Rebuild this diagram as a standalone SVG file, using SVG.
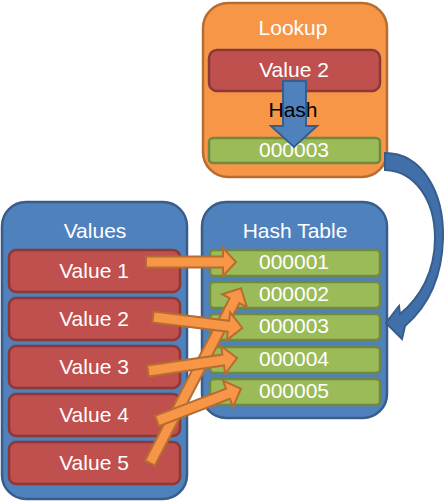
<svg xmlns="http://www.w3.org/2000/svg" width="445" height="501" viewBox="0 0 445 501">
<style>
.cont{fill:#4F81BD;stroke:#385D8A;stroke-width:2.5}
.look{fill:#F79646;stroke:#B66D31;stroke-width:2.5}
.red{fill:#C0504D;stroke:#8C3836;stroke-width:2.5}
.grn{fill:#9BBB59;stroke:#71893F;stroke-width:2.5}
.oar{fill:#F79646;stroke:#B66D31;stroke-width:2;stroke-linejoin:miter}
.bar{fill:#4F81BD;stroke:#385D8A;stroke-width:2}
text{font-family:"Liberation Sans",Arial,sans-serif;font-size:21px;fill:#FFFFFF;text-anchor:middle}
.blk{fill:#000000}
</style>
<g id="lookup">
<rect class="look" x="203" y="3" width="184" height="174" rx="25"/>
<text x="293" y="35">Lookup</text>
<rect class="red" x="209" y="50" width="171" height="41" rx="8"/>
<text x="294" y="77">Value 2</text>
<rect class="grn" x="209" y="138" width="171" height="25" rx="4"/>
<text x="294" y="157">000003</text>
<path class="bar" d="M283,81 H306 V126 H317 L294,147 L271,126 H283 Z"/>
<text class="blk" x="293" y="117">Hash</text>
</g>
<g id="values">
<rect class="cont" x="2" y="202" width="185" height="297" rx="24"/>
<text x="95" y="238">Values</text>
<rect class="red" x="9" y="250" width="171" height="42" rx="7"/>
<text x="94" y="278">Value 1</text>
<rect class="red" x="9" y="298" width="171" height="42" rx="7"/>
<text x="94" y="326">Value 2</text>
<rect class="red" x="9" y="346" width="171" height="42" rx="7"/>
<text x="94" y="374">Value 3</text>
<rect class="red" x="9" y="394" width="171" height="42" rx="7"/>
<text x="94" y="422">Value 4</text>
<rect class="red" x="9" y="442" width="171" height="42" rx="7"/>
<text x="94" y="470">Value 5</text>
</g>
<g id="hashtable">
<rect class="cont" x="202" y="202" width="185" height="216" rx="24"/>
<text x="295" y="238">Hash Table</text>
<rect class="grn" x="210" y="250" width="170" height="26" rx="4"/>
<text x="294" y="269">000001</text>
<rect class="grn" x="210" y="282" width="170" height="26" rx="4"/>
<text x="294" y="301">000002</text>
<rect class="grn" x="210" y="314" width="170" height="26" rx="4"/>
<text x="294" y="333">000003</text>
<rect class="grn" x="210" y="347" width="170" height="26" rx="4"/>
<text x="294" y="366">000004</text>
<rect class="grn" x="210" y="379" width="170" height="26" rx="4"/>
<text x="294" y="398">000005</text>
</g>
<g id="connectors">
<path d="M385,153 C422,153 444,192 443,238 C442,280 426,308 405,326 L402,339 L386,323 L399,306 L400,314 C420,298 435,272 435,238 C435,200 415,171 385,170 Z" fill="#416FAA" stroke="#385D8A" stroke-width="2"/>
<path class="oar" transform="translate(150,463) rotate(-62.5)" d="M0,-5.5 H183 V-14 L197,0 L183,14 V5.5 H0 Z"/>
<path class="oar" transform="translate(146,262)" d="M0,-5.5 H77 V-14 L90,0 L77,14 V5.5 H0 Z"/>
<path class="oar" transform="translate(153,317) rotate(7)" d="M0,-5.5 H76 V-14 L90,0 L76,14 V5.5 H0 Z"/>
<path class="oar" transform="translate(148,371) rotate(-8.3)" d="M0,-5.5 H76 V-14 L90,0 L76,14 V5.5 H0 Z"/>
<path class="oar" transform="translate(157,421) rotate(-21)" d="M0,-5.5 H76 V-14 L90,0 L76,14 V5.5 H0 Z"/>
</g>
</svg>
